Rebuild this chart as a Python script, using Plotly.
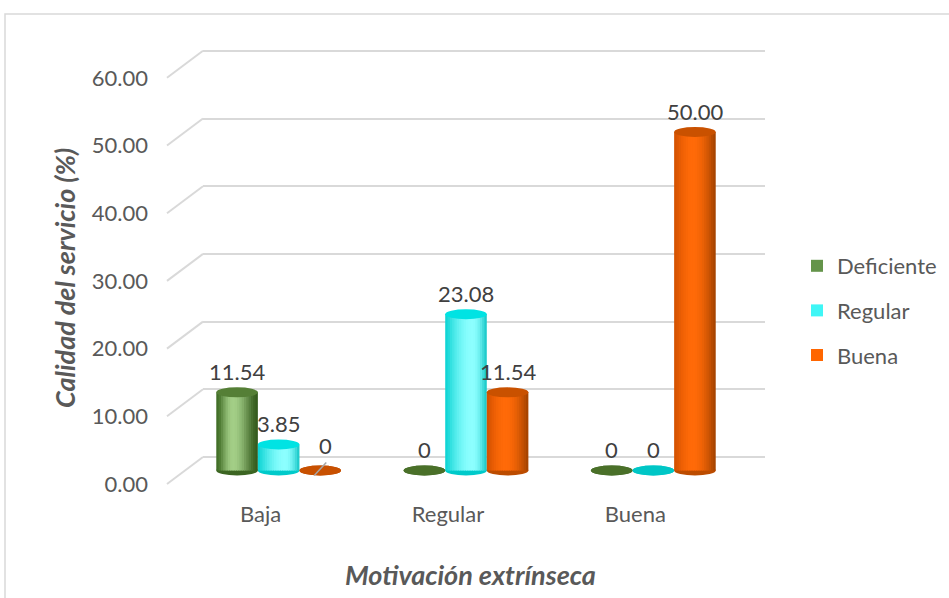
import math
import plotly.graph_objects as go

# ---- data -------------------------------------------------------------
categories = ["Baja", "Regular", "Buena"]
series_names = ["Deficiente", "Regular", "Buena"]
deficiente = [11.54, 0.0, 0.0]
regular = [3.85, 23.08, 0.0]
buena = [0.0, 11.54, 50.00]
y_tick_values = [0, 10, 20, 30, 40, 50, 60]
y_tick_labels = ["0.00", "10.00", "20.00", "30.00", "40.00", "50.00", "60.00"]
x_title = "Motivación extrínseca"
y_title = "Calidad del servicio (%)"

values = [deficiente, regular, buena]

# ---- styling ------------------------------------------------------------
W, H = 949, 598
FONT = "Lato"
GRAY_TXT = "#595959"
LABEL_TXT = "#404040"
GRID = "#D9D9D9"

# cylinder shading: (left edge, highlight, right edge, highlight position, sharpness)
shade = [
    ("#3F6C24", "#A3CE87", "#335A1C", 0.40, 1.6),
    ("#08D2D2", "#8CFFFF", "#10C4C4", 0.66, 1.0),
    ("#D05000", "#FF6A08", "#A04200", 0.45, 1.0),
]
cap_color = ["#557F36", "#00E3E3", "#C95100"]
flat_color = ["#4A7029", "#00C6C6", "#C85000"]
base_color = ["#3C6522", "#00CACA", "#BC4C00"]
legend_color = ["#64944A", "#3FF6F6", "#FF6600"]

# labels that were dragged off their default spot get a leader line
# key: (series index, category index) -> (dx px, dy px)
moved_labels = {(2, 0): (5, 25)}

# oblique 3-D frame: three parallel planes sharing one value scale
S = 6.77                      # pixels per unit
YMIN, YMAX = -1.0, 65.0
PLANE_W = 562                 # width of each plane in pixels
planes = {
    "back": (203, 457.0),     # left edge px, zero line px
    "mid": (185, 470.5),
    "front": (167, 484.0),
}
DY_DIAG = 27                  # vertical drop from back wall to front plane


def xdom(left):
    return [left / W, (left + PLANE_W) / W]


def ydom(zero):
    bottom = zero - YMIN * S
    top = zero - YMAX * S
    return [(H - bottom) / H, (H - top) / H]


def hex2rgb(h):
    h = h.lstrip("#")
    return [int(h[i:i + 2], 16) for i in (0, 2, 4)]


def mix(a, b, f):
    ca, cb = hex2rgb(a), hex2rgb(b)
    return "rgb({},{},{})".format(*[round(x + (y - x) * f) for x, y in zip(ca, cb)])


def shade_at(t, left, high, right, p, k):
    if t <= p:
        f = math.sin(math.pi / 2 * (t / p)) ** k
        return mix(left, high, f)
    f = 1 - math.cos(math.pi / 2 * ((t - p) / (1 - p)))
    f = 1 - (1 - f) ** k
    return mix(high, right, f)


fig = go.Figure()

BAR_W = 0.222                 # cylinder diameter in category units
N_STRIPS = 18
strip_w = BAR_W / N_STRIPS
offsets = [(j - 1) * BAR_W - BAR_W / 2 for j in range(3)]

shapes = []
annotations = []

for j, (name, vals) in enumerate(zip(series_names, values)):
    left, high, right, p, k_sharp = shade[j]
    for k in range(N_STRIPS):
        t = (k + 0.5) / N_STRIPS
        col = shade_at(t, left, high, right, p, k_sharp)
        w = strip_w * (1.5 if k < N_STRIPS - 1 else 1.0)
        fig.add_trace(go.Bar(
            x=categories, y=vals,
            xaxis="x3", yaxis="y3",
            offset=offsets[j] + k * strip_w, width=w,
            marker=dict(color=col, line=dict(width=0)),
            name=name, legendgroup=name,
            showlegend=False, hoverinfo="skip",
        ))
    # legend entry
    fig.add_trace(go.Bar(
        x=[None], y=[None], xaxis="x3", yaxis="y3",
        marker=dict(color=legend_color[j], line=dict(width=0)),
        name=name, legendgroup=name, showlegend=True,
    ))
    for i, v in enumerate(vals):
        cx = i + offsets[j] + BAR_W / 2
        x0, x1 = cx - BAR_W / 2, cx + BAR_W / 2
        # rounded bottom of the cylinder
        shapes.append(dict(
            type="circle", xref="x3", yref="y3", layer="below",
            x0=x0, x1=x1, ysizemode="pixel", yanchor=0, y0=-5, y1=5,
            fillcolor=base_color[j], line=dict(width=0),
        ))
        # top face
        shapes.append(dict(
            type="circle", xref="x3", yref="y3", layer="above",
            x0=x0, x1=x1, ysizemode="pixel", yanchor=v, y0=-5, y1=5,
            fillcolor=cap_color[j] if v > 0 else flat_color[j],
            line=dict(width=0),
        ))
        dx, dy = moved_labels.get((j, i), (0, 21))
        if (j, i) in moved_labels:
            shapes.append(dict(
                type="line", xref="x3", yref="y3", layer="above",
                xsizemode="pixel", xanchor=cx, x0=-6, x1=6,
                ysizemode="pixel", yanchor=v, y0=-5, y1=8,
                line=dict(color="#A6A6A6", width=1.5),
            ))
        annotations.append(dict(
            x=cx, y=v, xref="x3", yref="y3", xshift=dx, yshift=dy,
            text=f"{v:.2f}" if v else "0", showarrow=False,
            font=dict(family=FONT, size=22, color=LABEL_TXT),
        ))

# receding wall lines joining back gridlines to the front value labels
for v in y_tick_values:
    shapes.append(dict(
        type="line", xref="paper", yref="y2", layer="below",
        x0=planes["front"][0] / W, x1=planes["back"][0] / W,
        ysizemode="pixel", yanchor=v, y0=0, y1=DY_DIAG,
        line=dict(color=GRID, width=2),
    ))

# outer chart border
shapes.append(dict(
    type="rect", xref="paper", yref="paper", layer="below",
    x0=5 / W, x1=1.02, y0=-0.02, y1=(H - 14) / H,
    line=dict(color=GRID, width=1.5), fillcolor="rgba(0,0,0,0)",
))

annotations.append(dict(
    x=470 / W, y=(H - 574) / H, xref="paper", yref="paper",
    xanchor="center", yanchor="middle",
    text=f"<b><i>{x_title}</i></b>", showarrow=False,
    font=dict(family=FONT, size=27, color=GRAY_TXT),
))
annotations.append(dict(
    x=64 / W, y=(H - 278) / H, xref="paper", yref="paper",
    xanchor="center", yanchor="middle",
    text=f"<b><i>{y_title}</i></b>", showarrow=False, textangle=-90,
    font=dict(family=FONT, size=27, color=GRAY_TXT),
))

hidden_x = dict(type="category", categoryorder="array", categoryarray=categories,
                range=[-0.5, 2.5], showgrid=False, zeroline=False,
                showticklabels=False, showline=False, ticks="", automargin=False)
hidden_y = dict(range=[YMIN, YMAX], showgrid=False, zeroline=False,
                showticklabels=False, showline=False, ticks="", automargin=False)

fig.update_layout(
    width=W, height=H,
    margin=dict(l=0, r=0, t=0, b=0),
    paper_bgcolor="white", plot_bgcolor="rgba(0,0,0,0)",
    barmode="overlay",
    showlegend=True,
    legend=dict(
        x=797 / W, y=(H - 245) / H, xanchor="left", yanchor="top",
        font=dict(family=FONT, size=22, color=GRAY_TXT),
        tracegroupgap=13, bgcolor="rgba(0,0,0,0)",
    ),
    # back wall: gridlines
    xaxis=dict(hidden_x, domain=xdom(planes["back"][0])),
    yaxis=dict(hidden_y, domain=ydom(planes["back"][1]), anchor="x",
               showgrid=True, gridcolor=GRID, gridwidth=2,
               tickmode="array", tickvals=y_tick_values),
    # front plane: axis labels
    xaxis2=dict(hidden_x, domain=xdom(planes["front"][0]), anchor="y2",
                showticklabels=True, ticklabelstandoff=8,
                tickfont=dict(family=FONT, size=22, color=GRAY_TXT)),
    yaxis2=dict(hidden_y, domain=ydom(planes["front"][1]), anchor="x2",
                showticklabels=True, tickmode="array",
                tickvals=y_tick_values, ticktext=y_tick_labels,
                ticklabelstandoff=18,
                tickfont=dict(family=FONT, size=22, color=GRAY_TXT)),
    # middle plane: cylinders
    xaxis3=dict(hidden_x, domain=xdom(planes["mid"][0]), anchor="y3"),
    yaxis3=dict(hidden_y, domain=ydom(planes["mid"][1]), anchor="x3"),
    shapes=shapes,
    annotations=annotations,
    font=dict(family=FONT),
)

fig.add_trace(go.Scatter(x=categories, y=[None] * 3, xaxis="x2", yaxis="y2",
                         showlegend=False, hoverinfo="skip"))
fig.add_trace(go.Scatter(x=categories, y=[None] * 3, xaxis="x", yaxis="y",
                         showlegend=False, hoverinfo="skip"))

fig.write_html("out.html")
